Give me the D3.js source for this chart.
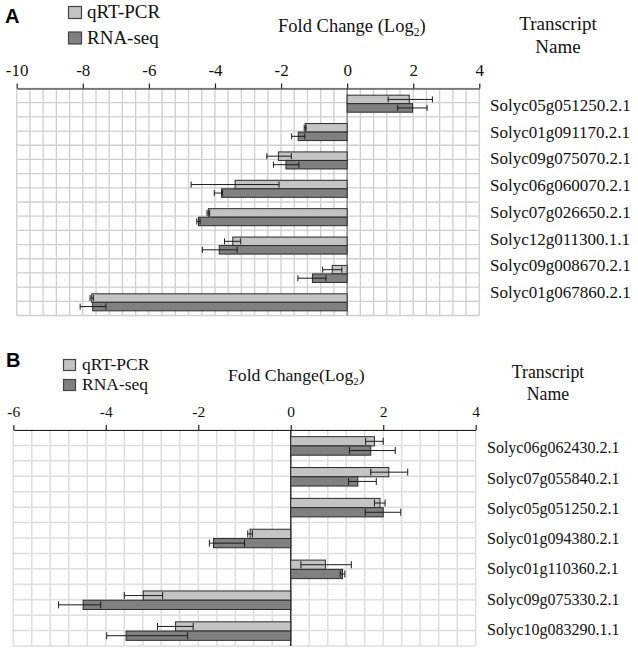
<!DOCTYPE html>
<html><head><meta charset="utf-8">
<script src="https://cdn.jsdelivr.net/npm/d3@7"></script>
<style>body{margin:0;background:#fff} svg{display:block}</style>
</head><body>
<svg id="c" width="638" height="651"></svg>
<script>
// ---------- DATA ----------
const seriesNames = ["qRT-PCR", "RNA-seq"];

const transcriptsA = ["Solyc05g051250.2.1","Solyc01g091170.2.1","Solyc09g075070.2.1","Solyc06g060070.2.1","Solyc07g026650.2.1","Solyc12g011300.1.1","Solyc09g008670.2.1","Solyc01g067860.2.1"];
const qpcrA        = [1.88, -1.27, -2.08, -3.39, -4.20, -3.46, -0.45, -7.73];
const qpcrA_errLo  = [0.64,  0.03,  0.35,  1.33,  0.04,  0.25,  0.29,  0.05];
const qpcrA_errHi  = [0.70,  0.03,  0.39,  1.33,  0.04,  0.24,  0.29,  0.05];
const rnaA         = [1.98, -1.48, -1.85, -3.80, -4.50, -3.87, -1.05, -7.70];
const rnaA_errLo   = [0.45,  0.20,  0.38,  0.22,  0.05,  0.51,  0.44,  0.38];
const rnaA_errHi   = [0.44,  0.20,  0.39,  0.03,  0.05,  0.54,  0.41,  0.40];
const ticksA = [-10, -8, -6, -4, -2, 0, 2, 4];

const transcriptsB = ["Solyc06g062430.2.1","Solyc07g055840.2.1","Solyc05g051250.2.1","Solyc01g094380.2.1","Solyc01g110360.2.1","Solyc09g075330.2.1","Solyc10g083290.1.1"];
const qpcrB        = [1.81, 2.12, 1.93, -0.88, 0.75, -3.19, -2.49];
const qpcrB_errLo  = [0.19, 0.39, 0.12,  0.05, 0.53,  0.41,  0.39];
const qpcrB_errHi  = [0.19, 0.41, 0.11,  0.05, 0.56,  0.42,  0.38];
const rnaB         = [1.73, 1.45, 2.00, -1.67, 1.12, -4.49, -3.56];
const rnaB_errLo   = [0.46, 0.20, 0.39,  0.09, 0.05,  0.53,  0.42];
const rnaB_errHi   = [0.53, 0.40, 0.38,  0.67, 0.05,  0.38,  1.33];
const ticksB = [-6, -4, -2, 0, 2, 4];

// ---------- DRAW ----------
const svg = d3.select("#c");
const serif = '"Liberation Serif","Times New Roman",serif';
const sans = '"Liberation Sans",Arial,sans-serif';
const fills = ["#c3c3c3", "#808080"];

function panel(o) {
  const x = d3.scaleLinear().domain([o.ticks[0], o.ticks[o.ticks.length-1]]).range([o.x0, o.x1]);
  const y = d3.scaleBand().domain(o.names).range([o.top, o.bottom]);
  const g = svg.append("g");
  const row = y.bandwidth();

  // grid
  const d0 = x.domain()[0], d1 = x.domain()[1];
  const nV = Math.round((d1 - d0) / 0.4);
  g.append("g").selectAll("line").data(d3.range(nV + 1)).join("line")
    .attr("x1", i => x(d0 + i * 0.4)).attr("x2", i => x(d0 + i * 0.4))
    .attr("y1", o.top).attr("y2", o.bottom)
    .attr("stroke", o.gridColor).attr("stroke-width", o.gridW);
  g.append("g").selectAll("line").data(d3.range(o.names.length * 2 + 1)).join("line")
    .attr("x1", o.x0).attr("x2", o.x1)
    .attr("y1", i => o.top + i * row / 2).attr("y2", i => o.top + i * row / 2)
    .attr("stroke", o.gridColor).attr("stroke-width", o.gridW);

  // zero line
  g.append("line").attr("x1", x(0)).attr("x2", x(0)).attr("y1", o.top).attr("y2", o.bottom)
    .attr("stroke", o.zeroColor).attr("stroke-width", o.zeroW);

  // bars
  const h = row * o.barFrac;
  o.series.forEach((s, si) => {
    const data = o.names.map((n, i) => ({n, v: s.v[i], lo: s.lo[i], hi: s.hi[i]}));
    const by = d => y(d.n) + row / 2 - h + si * h + o.shift;
    g.append("g").selectAll("rect").data(data).join("rect")
      .attr("x", d => Math.min(x(0), x(d.v))).attr("width", d => Math.abs(x(d.v) - x(0)))
      .attr("y", by).attr("height", h)
      .attr("fill", fills[si]).attr("stroke", "#2b2b2b").attr("stroke-width", 1);
    const eg = g.append("g").attr("stroke", "#1a1a1a").attr("stroke-width", 1);
    data.forEach(d => {
      const cy = by(d) + h / 2;
      const xa = x(d.v - d.lo), xb = x(d.v + d.hi);
      eg.append("line").attr("x1", xa).attr("x2", xb).attr("y1", cy).attr("y2", cy);
      eg.append("line").attr("x1", xa).attr("x2", xa).attr("y1", cy - o.cap / 2).attr("y2", cy + o.cap / 2);
      eg.append("line").attr("x1", xb).attr("x2", xb).attr("y1", cy - o.cap / 2).attr("y2", cy + o.cap / 2);
    });
  });

  // top axis
  const ax = g.append("g").attr("transform", `translate(0,${o.top})`)
    .call(d3.axisTop(x).tickValues(o.ticks).tickFormat(d => String(d))
      .tickSize(5).tickPadding(8).tickSizeOuter(0));
  ax.attr("font-family", serif);
  ax.select(".domain").attr("stroke", "#222").attr("stroke-width", 1.2);
  ax.selectAll(".tick line").attr("stroke", "#222").attr("stroke-width", 1.2);
  ax.selectAll(".tick text").attr("font-family", serif).attr("font-size", o.tickFs).attr("fill", "#111");

  // transcript labels
  const ly = d3.scaleLinear().domain([0, o.names.length - 1]).range(o.labRange);
  g.append("g").selectAll("text").data(o.names).join("text")
    .attr("x", o.labX).attr("y", (d, i) => ly(i))
    .attr("font-family", serif).attr("font-size", o.labFs).attr("fill", "#111")
    .text(d => d);

  // panel letter
  g.append("text").attr("x", o.letter[0]).attr("y", o.letter[1])
    .attr("font-family", sans).attr("font-weight", "bold").attr("font-size", 20).attr("fill", "#000")
    .text(o.letter[2]);

  // legend
  seriesNames.forEach((s, i) => {
    g.append("rect").attr("x", o.leg.x).attr("y", o.leg.y + i * o.leg.dy)
      .attr("width", o.leg.sq).attr("height", o.leg.sq - 1)
      .attr("fill", fills[i]).attr("stroke", "#444").attr("stroke-width", 1.2);
    g.append("text").attr("x", o.leg.tx).attr("y", o.leg.ty + i * o.leg.dy)
      .attr("font-family", serif).attr("font-size", o.leg.fs).attr("fill", "#111").text(s);
  });

  // axis title
  const t = g.append("text").attr("x", o.title.x).attr("y", o.title.y)
    .attr("font-family", serif).attr("font-size", o.title.fs).attr("fill", "#111");
  t.append("tspan").text(o.title.text);
  t.append("tspan").attr("font-size", o.title.fs * 0.62).attr("dy", 4).text("2");
  t.append("tspan").attr("dy", -4).text(")");

  // Transcript Name header
  g.append("text").attr("x", o.hdr.x).attr("y", o.hdr.y1).attr("text-anchor", "middle")
    .attr("font-family", serif).attr("font-size", o.hdr.fs).attr("fill", "#111").text("Transcript");
  g.append("text").attr("x", o.hdr.x).attr("y", o.hdr.y2).attr("text-anchor", "middle")
    .attr("font-family", serif).attr("font-size", o.hdr.fs).attr("fill", "#111").text("Name");
}

panel({
  names: transcriptsA, ticks: ticksA,
  series: [{v: qpcrA, lo: qpcrA_errLo, hi: qpcrA_errHi}, {v: rnaA, lo: rnaA_errLo, hi: rnaA_errHi}],
  x0: 16.7, x1: 479.3, top: 88.5, bottom: 315.5,
  gridColor: "#cfcfcf", gridW: 1.3, zeroColor: "#707070", zeroW: 1,
  barFrac: 0.3, shift: 1, cap: 6, tickFs: 17,
  labX: 490, labRange: [111, 298], labFs: 17,
  letter: [5, 23, "A"],
  leg: {x: 68.5, y: 6.5, dy: 25.5, sq: 13, tx: 87, ty: 18, fs: 19},
  title: {x: 278, y: 31.5, fs: 18.5, text: "Fold Change (Log"},
  hdr: {x: 558, y1: 30, y2: 53, fs: 19}
});

panel({
  names: transcriptsB, ticks: ticksB,
  series: [{v: qpcrB, lo: qpcrB_errLo, hi: qpcrB_errHi}, {v: rnaB, lo: rnaB_errLo, hi: rnaB_errHi}],
  x0: 13.3, x1: 475.7, top: 430, bottom: 646,
  gridColor: "#dedede", gridW: 1.5, zeroColor: "#333", zeroW: 1.5,
  barFrac: 0.3, shift: 0.5, cap: 7, tickFs: 15.5,
  labX: 487, labRange: [453.3, 635], labFs: 16,
  letter: [6, 367, "B"],
  leg: {x: 63.5, y: 359.5, dy: 20, sq: 12, tx: 82, ty: 370, fs: 17.5},
  title: {x: 228, y: 380.5, fs: 17.7, text: "Fold Change(Log"},
  hdr: {x: 548, y1: 378, y2: 400, fs: 17.8}
});
</script>
</body></html>
